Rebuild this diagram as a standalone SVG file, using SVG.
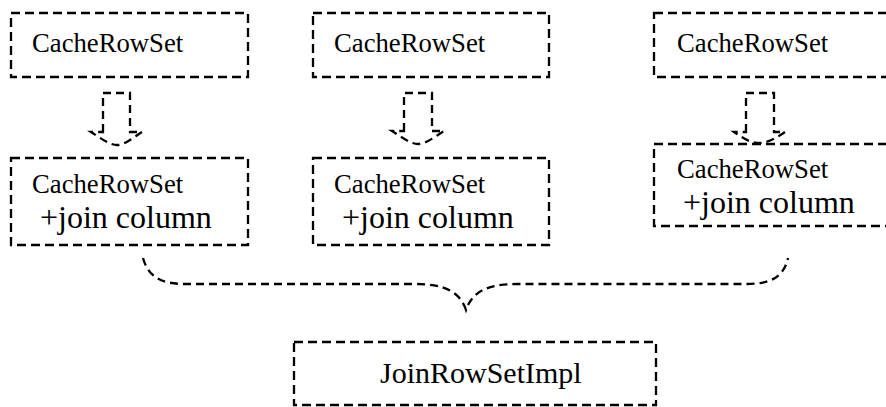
<svg xmlns="http://www.w3.org/2000/svg" width="886" height="407" viewBox="0 0 886 407">
<style>
.box{fill:none;stroke:#000;stroke-width:2.3;stroke-dasharray:9 5}
.conn{fill:none;stroke:#000;stroke-width:2.3;stroke-dasharray:8 5;stroke-linejoin:miter}
.s{font-family:"Liberation Serif","Times New Roman",serif;font-size:26.7px;fill:#000}
.l{font-family:"Liberation Serif","Times New Roman",serif;font-size:32px;fill:#000}
.m{font-family:"Liberation Serif","Times New Roman",serif;font-size:30px;fill:#000}
</style>
<rect width="886" height="407" fill="#fff"/>
<g id="crs1">
<rect class="box" x="11" y="13" width="237" height="64"/>
<text class="s" x="32" y="52">CacheRowSet</text>
</g>
<g id="crs2">
<rect class="box" x="313" y="13" width="236" height="64"/>
<text class="s" x="334" y="52">CacheRowSet</text>
</g>
<g id="crs3">
<rect class="box" x="654" y="13" width="240" height="64"/>
<text class="s" x="677" y="52">CacheRowSet</text>
</g>
<g id="crsj1">
<rect class="box" x="11" y="158" width="237" height="87"/>
<text class="s" x="32" y="193">CacheRowSet</text>
<text class="l" x="40" y="228">+join column</text>
</g>
<g id="crsj2">
<rect class="box" x="313" y="158" width="236" height="87"/>
<text class="s" x="334" y="193">CacheRowSet</text>
<text class="l" x="342" y="228">+join column</text>
</g>
<g id="crsj3">
<rect class="box" x="654" y="144" width="240" height="82"/>
<text class="s" x="677" y="178">CacheRowSet</text>
<text class="l" x="683" y="213">+join column</text>
</g>
<g id="joinrowsetimpl">
<rect class="box" x="294" y="342" width="362" height="63"/>
<text class="m" x="380" y="383">JoinRowSetImpl</text>
</g>
<g id="connectors">
<path class="conn" d="M103,132 L103,93 L130,93 L130,132 L142,132 C134,137 125,145 117,145 C109,145 99,137 91,132 Z"/>
<path class="conn" d="M404,131 L404,93 L432,93 L432,131 L444,131 C436,136 426,144 418,144 C410,144 400,136 392,131 Z"/>
<path class="conn" d="M746,132 L746,93 L774,93 L774,132 L785,132 C778,137 768,143 759,143 C750,143 741,137 734,132 Z"/>
<path class="conn" d="M143,258 C148,276 160,284 185,284 L415,284 C445,284 460,292 466,310 C472,292 487,284 517,284 L747,284 C772,284 784,276 788,258"/>
</g>
</svg>
